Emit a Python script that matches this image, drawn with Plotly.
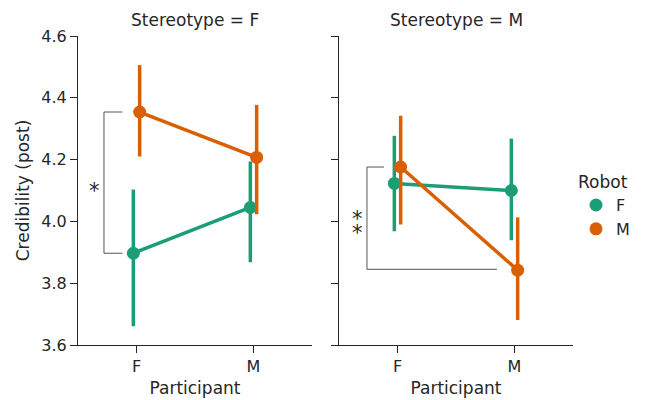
import plotly.graph_objects as go

# ---- data ----
participants = ["F", "M"]
robots = ["F", "M"]
stereotypes = ["F", "M"]

mean_SF_RF = [3.897, 4.045]
lo_SF_RF = [3.661, 3.868]
hi_SF_RF = [4.103, 4.194]

mean_SF_RM = [4.354, 4.207]
lo_SF_RM = [4.210, 4.023]
hi_SF_RM = [4.506, 4.377]

mean_SM_RF = [4.123, 4.100]
lo_SM_RF = [3.968, 3.939]
hi_SM_RF = [4.277, 4.268]

mean_SM_RM = [4.176, 3.842]
lo_SM_RM = [3.990, 3.681]
hi_SM_RM = [4.342, 4.013]

colors = {"F": "#1b9e77", "M": "#d95f02"}
dodge = {"F": -0.027, "M": 0.027}
FONT = "DejaVu Sans"
TXT = "#262626"

fig = go.Figure()

series = [
    ("F", "F", mean_SF_RF, lo_SF_RF, hi_SF_RF, "x", "y"),
    ("F", "M", mean_SF_RM, lo_SF_RM, hi_SF_RM, "x", "y"),
    ("M", "F", mean_SM_RF, lo_SM_RF, hi_SM_RF, "x2", "y2"),
    ("M", "M", mean_SM_RM, lo_SM_RM, hi_SM_RM, "x2", "y2"),
]
for st, rb, m, lo, hi, xa, ya in series:
    xs = [i + dodge[rb] for i in range(len(participants))]
    fig.add_trace(go.Scatter(
        x=xs, y=m, xaxis=xa, yaxis=ya, mode="lines+markers",
        name=rb, legendgroup=rb, showlegend=False,
        line=dict(color=colors[rb], width=3.5),
        marker=dict(color=colors[rb], size=13),
        error_y=dict(type="data", symmetric=False,
                     array=[h - v for h, v in zip(hi, m)],
                     arrayminus=[v - l for v, l in zip(m, lo)],
                     color=colors[rb], thickness=3.5, width=0),
    ))

# legend entries (markers only, as in the reference)
for rb in robots:
    fig.add_trace(go.Scatter(
        x=[None], y=[None], mode="markers", name=rb, legendgroup=rb,
        marker=dict(color=colors[rb], size=13), showlegend=True,
    ))

br = dict(color="#555555", width=1)
shapes = [
    dict(type="line", xref="x", yref="y", x0=-0.278, x1=-0.278, y0=4.354, y1=3.897, line=br),
    dict(type="line", xref="x", yref="y", x0=-0.278, x1=-0.12, y0=4.354, y1=4.354, line=br),
    dict(type="line", xref="x", yref="y", x0=-0.278, x1=-0.12, y0=3.897, y1=3.897, line=br),
    dict(type="line", xref="x2", yref="y2", x0=-0.261, x1=-0.261, y0=4.176, y1=3.845, line=br),
    dict(type="line", xref="x2", yref="y2", x0=-0.261, x1=-0.115, y0=4.176, y1=4.176, line=br),
    dict(type="line", xref="x2", yref="y2", x0=-0.261, x1=0.85, y0=3.845, y1=3.845, line=br),
]

annotations = [
    dict(text="Stereotype = F", x=195 / 646, y=1 - 20 / 400, xref="paper", yref="paper",
         xanchor="center", yanchor="middle",
         showarrow=False, font=dict(family=FONT, size=17, color=TXT)),
    dict(text="Stereotype = M", x=456 / 646, y=1 - 20 / 400, xref="paper", yref="paper",
         xanchor="center", yanchor="middle",
         showarrow=False, font=dict(family=FONT, size=17, color=TXT)),
    dict(text="*", x=-0.355, y=4.10, xref="x", yref="y", showarrow=False,
         font=dict(family=FONT, size=21, color=TXT)),
    dict(text="*", x=-0.346, y=4.009, xref="x2", yref="y2", showarrow=False,
         font=dict(family=FONT, size=21, color=TXT)),
    dict(text="*", x=-0.346, y=3.964, xref="x2", yref="y2", showarrow=False,
         font=dict(family=FONT, size=21, color=TXT)),
]

ax_common = dict(showline=True, linecolor=TXT, linewidth=1.25, ticks="outside",
                 ticklen=7, tickwidth=1.25, tickcolor=TXT, showgrid=False, zeroline=False,
                 automargin=False,
                 tickfont=dict(family=FONT, size=16, color=TXT))

fig.update_layout(
    width=646, height=400, margin=dict(l=0, r=0, t=0, b=0),
    paper_bgcolor="white", plot_bgcolor="white",
    font=dict(family=FONT, color=TXT),
    shapes=shapes, annotations=annotations,
    xaxis=dict(domain=[78 / 646, 312 / 646], range=[-0.5, 1.5], anchor="y",
               tickvals=[0, 1], ticktext=participants,
               title=dict(text="Participant", font=dict(family=FONT, size=17, color=TXT), standoff=6),
               **ax_common),
    yaxis=dict(domain=[55 / 400, 364 / 400], range=[3.6, 4.6], anchor="x",
               tickvals=[3.6, 3.8, 4.0, 4.2, 4.4, 4.6], tickformat=".1f",
               title=dict(text="Credibility (post)", font=dict(family=FONT, size=17, color=TXT), standoff=7),
               **ax_common),
    xaxis2=dict(domain=[339 / 646, 573 / 646], range=[-0.5, 1.5], anchor="y2",
                tickvals=[0, 1], ticktext=participants,
                title=dict(text="Participant", font=dict(family=FONT, size=17, color=TXT), standoff=6),
                **ax_common),
    yaxis2=dict(domain=[55 / 400, 364 / 400], range=[3.6, 4.6], anchor="x2",
                tickvals=[3.6, 3.8, 4.0, 4.2, 4.4, 4.6], showticklabels=False,
                **ax_common),
    legend=dict(title=dict(text="Robot", font=dict(family=FONT, size=17, color=TXT)),
                font=dict(family=FONT, size=16, color=TXT),
                x=576 / 646, xanchor="left", y=1 - 166 / 400, yanchor="top",
                bgcolor="rgba(0,0,0,0)", itemwidth=30, tracegroupgap=0),
)

fig.write_html("out.html")
